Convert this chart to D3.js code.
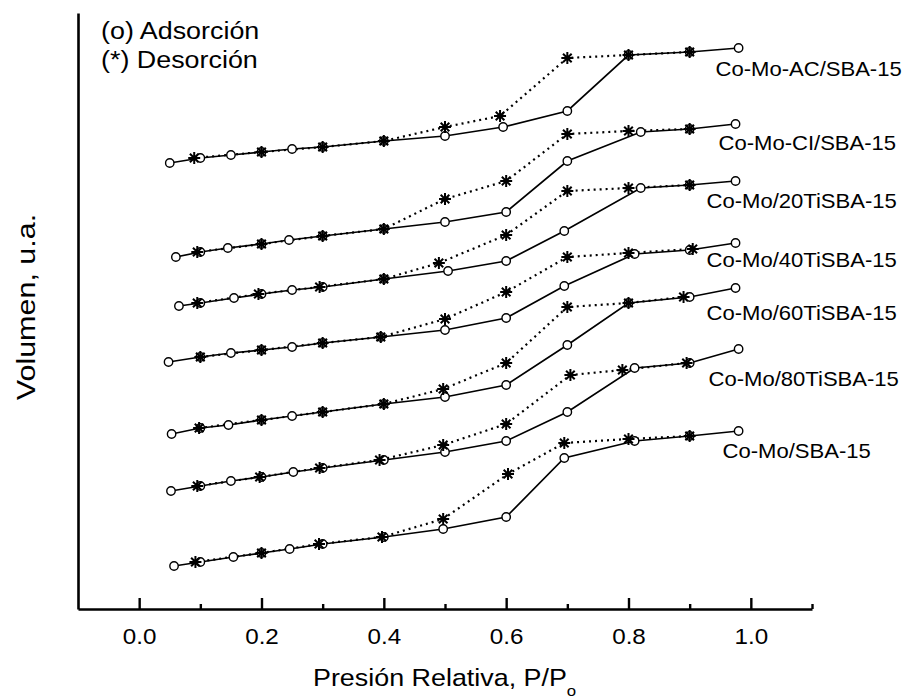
<!DOCTYPE html>
<html>
<head>
<meta charset="utf-8">
<script src="https://cdn.jsdelivr.net/npm/d3@7"></script>
<style>
body { margin: 0; background: #fff; }
text { font-family: Arial, "Liberation Sans", sans-serif; fill: #000; }
</style>
</head>
<body>
<div id="canvas"></div>
<script>
// muestras, de arriba hacia abajo
const labels = ["Co-Mo-AC/SBA-15", "Co-Mo-CI/SBA-15", "Co-Mo/20TiSBA-15", "Co-Mo/40TiSBA-15",
                "Co-Mo/60TiSBA-15", "Co-Mo/80TiSBA-15", "Co-Mo/SBA-15"];

// adsorcion (o): P/Po y volumen (u.a., desplazado)
const adsP = [
  [0.05, 0.1, 0.15, 0.2, 0.25, 0.3, 0.4, 0.5, 0.595, 0.7, 0.8, 0.9, 0.98],
  [0.06, 0.1, 0.145, 0.2, 0.245, 0.3, 0.4, 0.5, 0.6, 0.7, 0.82, 0.9, 0.975],
  [0.065, 0.1, 0.155, 0.2, 0.25, 0.3, 0.4, 0.505, 0.6, 0.695, 0.82, 0.9, 0.975],
  [0.048, 0.1, 0.15, 0.2, 0.25, 0.3, 0.395, 0.5, 0.6, 0.695, 0.81, 0.9, 0.975],
  [0.053, 0.1, 0.146, 0.2, 0.25, 0.3, 0.4, 0.5, 0.6, 0.7, 0.8, 0.9, 0.975],
  [0.052, 0.1, 0.15, 0.2, 0.252, 0.3, 0.4, 0.5, 0.6, 0.7, 0.81, 0.9, 0.98],
  [0.057, 0.1, 0.154, 0.2, 0.246, 0.3, 0.4, 0.497, 0.6, 0.695, 0.81, 0.9, 0.98]
];
const adsV = [
  [446, 451, 454, 457, 460, 462, 468, 473, 482, 498, 554, 557, 561],
  [352, 357, 361, 365, 369, 373, 380, 387, 397, 448, 477, 480, 485],
  [303, 306, 311, 315, 319, 322, 330, 338, 348, 378, 421, 424, 428],
  [247, 252, 256, 259, 262, 266, 272, 279, 291, 323, 355, 359, 366],
  [175, 181, 184, 189, 193, 197, 205, 212, 224, 264, 306, 312, 321],
  [118, 123, 128, 132, 137, 141, 149, 157, 168, 197, 241, 246, 260],
  [43, 47, 52, 56, 60, 65, 72, 80, 92, 151, 168, 173, 178]
];

// desorcion (*)
const desP = [
  [0.09, 0.2, 0.3, 0.4, 0.5, 0.59, 0.7, 0.8, 0.9],
  [0.095, 0.2, 0.3, 0.4, 0.5, 0.6, 0.7, 0.8, 0.9],
  [0.095, 0.195, 0.295, 0.4, 0.49, 0.6, 0.7, 0.8, 0.9],
  [0.1, 0.2, 0.3, 0.395, 0.5, 0.6, 0.7, 0.8, 0.905],
  [0.098, 0.2, 0.3, 0.4, 0.497, 0.6, 0.7, 0.8, 0.89],
  [0.095, 0.197, 0.295, 0.393, 0.497, 0.6, 0.705, 0.79, 0.895],
  [0.092, 0.2, 0.294, 0.397, 0.497, 0.603, 0.695, 0.8, 0.9]
];
const desV = [
  [451, 457, 462, 468, 482, 493, 551, 554, 557],
  [357, 365, 373, 380, 410, 428, 475, 478, 480],
  [306, 315, 322, 330, 346, 374, 418, 421, 424],
  [252, 259, 266, 272, 290, 317, 352, 356, 360],
  [181, 189, 197, 205, 220, 246, 302, 306, 312],
  [123, 132, 141, 149, 164, 185, 234, 239, 246],
  [47, 56, 65, 72, 90, 135, 166, 170, 173]
];

const majorTicks = [0, 0.2, 0.4, 0.6, 0.8, 1.0];
const minorTicks = [0.1, 0.3, 0.5, 0.7, 0.9, 1.1];

// desplazamiento de cada etiqueta respecto al ultimo punto
const labelOff = [[-23, 28], [-17, 26], [-29, 27], [-29, 24], [-29, 32], [-30, 37], [-16, 27]];

const width = 906;
const height = 698;

const svg = d3.select("#canvas").append("svg")
  .attr("width", width)
  .attr("height", height);

const x = d3.scaleLinear().domain([-0.1, 1.1]).range([78, 812]);
const y = d3.scaleLinear().domain([0, 596]).range([609, 13]);

// ejes
const xAxis = svg.append("g")
  .attr("transform", `translate(0,${y(0)})`)
  .call(d3.axisBottom(x).tickValues(majorTicks).tickSize(-11).tickSizeOuter(0)
    .tickPadding(19).tickFormat(d3.format(".1f")));
xAxis.select(".domain").attr("stroke-width", 2.6);
xAxis.selectAll(".tick line").attr("stroke-width", 2.4);
xAxis.selectAll(".tick text")
  .attr("font-size", 22)
  .attr("font-family", "Arial, 'Liberation Sans', sans-serif")
  .attr("transform", "scale(1.1,1)");

const xMinor = svg.append("g")
  .attr("transform", `translate(0,${y(0)})`)
  .call(d3.axisBottom(x).tickValues(minorTicks).tickSize(-5).tickSizeOuter(0).tickFormat(""));
xMinor.select(".domain").remove();
xMinor.selectAll(".tick line").attr("stroke-width", 2.4);

const yAxis = svg.append("g")
  .attr("transform", `translate(${x(-0.1)},0)`)
  .call(d3.axisLeft(y).tickValues([]).tickSizeOuter(0));
yAxis.select(".domain").attr("stroke-width", 2.6);

// titulos
const xt = svg.append("text")
  .attr("transform", "translate(313,686) scale(1.12,1)")
  .attr("font-size", 24);
xt.append("tspan").text("Presión Relativa, P/P");
xt.append("tspan").attr("font-size", 15).attr("dy", 10).text("o");

svg.append("text")
  .attr("transform", "translate(35,307) rotate(-90) scale(1.22,1)")
  .attr("text-anchor", "middle")
  .attr("font-size", 25)
  .text("Volumen, u.a.");

// leyenda
svg.append("text").attr("transform", "translate(101,39) scale(1.12,1)")
  .attr("font-size", 24).text("(o) Adsorción");
svg.append("text").attr("transform", "translate(101,68) scale(1.12,1)")
  .attr("font-size", 24).text("(*) Desorción");

const line = d3.line().x(d => x(d[0])).y(d => y(d[1]));

const starPath = (r) => {
  const k = r * 0.72;
  return `M${-r},0L${r},0M0,${-r}L0,${r}M${-k},${-k}L${k},${k}M${-k},${k}L${k},${-k}`;
};

labels.forEach((name, i) => {
  const ads = adsP[i].map((p, j) => [p, adsV[i][j]]);
  const des = desP[i].map((p, j) => [p, desV[i][j]]);
  const g = svg.append("g");

  g.append("path").datum(des)
    .attr("d", line)
    .attr("fill", "none")
    .attr("stroke", "#000")
    .attr("stroke-width", 2.2)
    .attr("stroke-dasharray", "2,4");

  g.append("path").datum(ads)
    .attr("d", line)
    .attr("fill", "none")
    .attr("stroke", "#000")
    .attr("stroke-width", 1.7);

  g.selectAll("circle").data(ads).enter().append("circle")
    .attr("cx", d => x(d[0]))
    .attr("cy", d => y(d[1]))
    .attr("r", 4.2)
    .attr("fill", "#fff")
    .attr("stroke", "#000")
    .attr("stroke-width", 1.4);

  g.selectAll("path.star").data(des).enter().append("path")
    .attr("class", "star")
    .attr("transform", d => `translate(${x(d[0])},${y(d[1])})`)
    .attr("d", starPath(6))
    .attr("stroke", "#000")
    .attr("stroke-width", 2);

  const last = ads[ads.length - 1];
  svg.append("text")
    .attr("transform", `translate(${x(last[0]) + labelOff[i][0]},${y(last[1]) + labelOff[i][1]}) scale(1.05,1)`)
    .attr("font-size", 21)
    .text(name);
});
</script>
</body>
</html>
